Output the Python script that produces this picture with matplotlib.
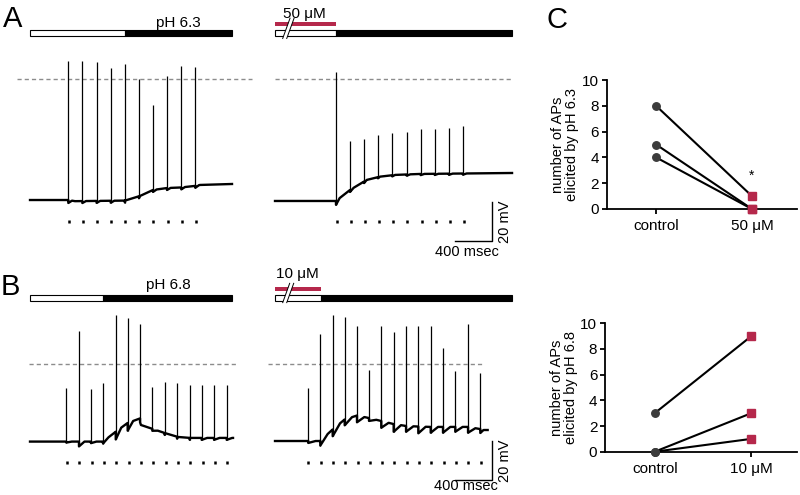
"""Acid-evoked firing traces (A, B) and AP counts per condition (C)."""

import matplotlib

matplotlib.use("Agg")
import matplotlib.pyplot as plt
import numpy as np

plt.rcParams["font.family"] = ["Liberation Sans", "DejaVu Sans"]

W, H = 800, 495
PX_PER_MS = 0.0917
PX_PER_MV = 1.93
RED = "#b5284b"
DOT = "#3c3c3c"

# ---- panel A, left: pH 6.3 alone ----
A_LEFT_BASE_T = [0, 414, 491, 1036, 1200, 1341, 1494, 1647, 1799, 1854, 2203]
A_LEFT_BASE_V = [-62.7, -62.7, -63.3, -63.0, -60.6, -57.5, -56.5, -56.2, -55.4, -54.9, -54.4]
A_LEFT_SPIKE_T = [418, 571, 726, 880, 1035, 1188, 1341, 1494, 1650, 1803]
A_LEFT_PEAK = [9.3, 9.3, 8.8, 5.7, 7.8, 0.0, -13.5, 1.6, 6.7, 6.2]
A_LEFT_AHP = [1.5, 1.0, 1.0, 1.0, 1.0, 1.0, 1.0, 1.0, 1.0, 1.0]
A_LEFT_STIM = [425, 578, 731, 883, 1036, 1189, 1341, 1505, 1658, 1810]
A_LEFT_SWITCH, A_LEFT_END = 1036, 2203

# ---- panel A, right: pH 6.3 with 50 uM ----
A_RIGHT_BASE_T = [0, 665, 818, 1000, 1145, 1309, 1581, 2585]
A_RIGHT_BASE_V = [-63.2, -63.2, -57.5, -52.3, -50.6, -49.7, -49.2, -48.7]
A_RIGHT_SPIKE_T = [665, 818, 971, 1123, 1279, 1436, 1589, 1742, 1897, 2050]
A_RIGHT_PEAK = [3.8, -32.0, -31.1, -29.0, -28.0, -27.5, -25.9, -25.9, -25.2, -24.5]
A_RIGHT_AHP = [2.0, 1.0, 0.8, 0.6, 0.6, 0.6, 0.6, 0.6, 0.6, 0.6]
A_RIGHT_STIM = [673, 826, 981, 1134, 1290, 1443, 1600, 1752, 1908, 2061]
A_RIGHT_SWITCH, A_RIGHT_END = 665, 2585

# ---- panel B, left: pH 6.8 alone ----
B_LEFT_BASE_T = [0, 796, 932, 1063, 1200, 1210, 1472, 1614, 1745, 2214]
B_LEFT_BASE_V = [-40.2, -40.2, -35.2, -30.6, -28.2, -31.6, -35.8, -37.8, -38.3, -38.3]
B_LEFT_SPIKE_T = [396, 534, 665, 796, 935, 1065, 1200, 1334, 1469, 1603, 1742, 1872, 2007, 2145]
B_LEFT_PEAK = [-12.6, 17.1, -13.1, -10.0, 25.4, 24.0, 20.7, -12.1, -9.3, -9.7, -11.0, -11.0, -11.0, -11.0]
B_LEFT_AHP = [0.5, 2.5, 0.8, 1.0, 4.0, 4.0, 2.0, 1.0, 1.0, 1.0, 1.0, 1.0, 1.0, 1.0]
B_LEFT_STIM = [400, 538, 673, 807, 941, 1076, 1210, 1345, 1480, 1614, 1748, 1883, 2017, 2152]
B_LEFT_SWITCH, B_LEFT_END = 800, 2206

# ---- panel B, right: pH 6.8 with 10 uM ----
B_RIGHT_BASE_T = [0, 360, 491, 622, 758, 894, 1025, 1156, 1292, 1429, 1559, 1696, 2105, 2236, 2274]
B_RIGHT_BASE_V = [-39.9, -39.9, -39.9, -34.2, -28.8, -26.7, -28.0, -29.5, -31.1, -32.1, -32.4, -32.6, -32.6, -33.7, -34.2]
B_RIGHT_SPIKE_T = [363, 494, 629, 760, 894, 1025, 1159, 1294, 1429, 1563, 1698, 1832, 1966, 2105, 2239]
B_RIGHT_PEAK = [-12.6, 15.5, 25.4, 24.2, 19.8, -3.1, 19.8, 16.4, 19.8, 19.8, 19.8, 8.4, -3.6, 20.5, -4.8]
B_RIGHT_AHP = [1.0, 2.5, 3.5, 3.0, 3.5, 1.5, 3.5, 4.0, 3.0, 3.5, 3.0, 3.0, 2.5, 3.0, 2.0]
B_RIGHT_STIM = [363, 498, 632, 767, 902, 1036, 1167, 1301, 1436, 1570, 1705, 1840, 1974, 2108, 2243]
B_RIGHT_SWITCH, B_RIGHT_END = 498, 2581

SCALE_MS, SCALE_MV = 400, 20

# ---- panel C: number of APs ----
C_CATEGORIES_TOP = ["control", "50 \u03bcM"]
C_CONTROL_TOP = [8, 5, 4]
C_DRUG_TOP = [1, 0, 0]
C_CATEGORIES_BOTTOM = ["control", "10 \u03bcM"]
C_CONTROL_BOTTOM = [3, 0, 0]
C_DRUG_BOTTOM = [9, 3, 1]


def trace_axes(fig, box, origin):
    """Axes in ms / mV whose pixel scale is shared by all four traces."""
    left, top, right, bottom = box
    x0, y0 = origin
    ax = fig.add_axes([left / W, 1 - bottom / H, (right - left) / W, (bottom - top) / H])
    ax.set_xlim((left - x0) / PX_PER_MS, (right - x0) / PX_PER_MS)
    ax.set_ylim((y0 - bottom) / PX_PER_MV, (y0 - top) / PX_PER_MV)
    ax.axis("off")
    return ax


def draw_trace(ax, base_t, base_v, spike_t, peaks, ahp, stim, stim_v, rec=40):
    base_t = np.asarray(base_t, float)
    base_v = np.asarray(base_v, float)
    ts, vs = list(base_t), list(base_v)
    foot = np.interp(spike_t, base_t, base_v)
    for t, b, a in zip(spike_t, foot, ahp):
        ts += [t - 0.1, t + 0.1, t + rec]
        vs += [b, b - a, np.interp(t + rec, base_t, base_v)]
    order = np.argsort(ts, kind="stable")
    ax.plot(np.array(ts)[order], np.array(vs)[order], color="k", lw=1.7,
            solid_joinstyle="round")
    ax.vlines(spike_t, foot - np.asarray(ahp), peaks, color="k", lw=0.9)
    ax.vlines(stim, stim_v - 0.8, stim_v + 0.8, color="k", lw=1.8)


def draw_solution_bar(ax, end, switch, y0, height):
    ax.barh(y0 + height / 2, switch, left=0, height=height, color="white",
            edgecolor="k", lw=0.8)
    ax.barh(y0 + height / 2, end - switch, left=switch, height=height,
            color="k", edgecolor="k", lw=0.8)


def draw_break(ax, x0, x1, y0, y1, gap=44):
    ax.plot([x0 + gap / 2, x1 + gap / 2], [y0, y1], color="white", lw=2.6,
            solid_capstyle="butt")
    for dx in (0, gap):
        ax.plot([x0 + dx, x1 + dx], [y0, y1], color="k", lw=0.7)


def draw_scale(ax, x_right, y_bottom, text_v, text_t):
    ax.plot([x_right - SCALE_MS, x_right, x_right],
            [y_bottom, y_bottom, y_bottom + SCALE_MV], color="k", lw=1.0)
    ax.text(x_right + 150, y_bottom + SCALE_MV / 2, f"{SCALE_MV} mV", rotation=90,
            ha="center", va="center", fontsize=10.5)
    ax.text(text_t, text_v, f"{SCALE_MS} msec", ha="center", va="center",
            fontsize=10.5)


def dashed(ax, t0, t1):
    ax.plot([t0, t1], [0, 0], color="#8c8c8c", lw=1.0, dashes=(3, 2.2))


def ap_panel(fig, rect, categories, control, drug):
    ax = fig.add_axes(rect)
    for c, d in zip(control, drug):
        ax.plot([0, 1], [c, d], color="k", lw=1.5, zorder=2)
    ax.plot(np.zeros(len(control)), control, "o", color=DOT, ms=5.4,
            zorder=3, clip_on=False)
    ax.plot(np.ones(len(drug)), drug, "s", color=RED, ms=5.6, zorder=3,
            clip_on=False)
    ax.set_xlim(-0.515, 1.47)
    ax.set_ylim(0, 10)
    ax.set_yticks([0, 2, 4, 6, 8, 10])
    ax.set_xticks([0, 1])
    ax.set_xticklabels(categories)
    for side in ("top", "right"):
        ax.spines[side].set_visible(False)
    for side in ("left", "bottom"):
        ax.spines[side].set_linewidth(1.3)
    ax.tick_params(width=1.3, length=3.5, labelsize=11, pad=2)
    ax.tick_params(axis="x", pad=4)
    return ax


fig = plt.figure(figsize=(W / 100, H / 100), dpi=100)

# A left
ax = trace_axes(fig, (0, 0, 262, 250), (30, 79))
dashed(ax, -142, 2421)
draw_solution_bar(ax, A_LEFT_END, A_LEFT_SWITCH, 22.3, 3.1)
ax.text(1614, 26.9, "pH 6.3", ha="center", va="baseline", fontsize=11)
draw_trace(ax, A_LEFT_BASE_T, A_LEFT_BASE_V, A_LEFT_SPIKE_T, A_LEFT_PEAK,
           A_LEFT_AHP, A_LEFT_STIM, -73.9)

# A right
ax = trace_axes(fig, (262, 0, 535, 250), (275, 79))
dashed(ax, 0, 2595)
draw_solution_bar(ax, A_RIGHT_END, A_RIGHT_SWITCH, 22.3, 3.1)
ax.barh(28.6, A_RIGHT_SWITCH, left=0, height=2.2, color=RED)
draw_break(ax, 84, 164, 21.0, 31.5)
ax.text(316, 31.4, "50 \u03bcM", ha="center", va="baseline", fontsize=11)
draw_trace(ax, A_RIGHT_BASE_T, A_RIGHT_BASE_V, A_RIGHT_SPIKE_T, A_RIGHT_PEAK,
           A_RIGHT_AHP, A_RIGHT_STIM, -73.9)
draw_scale(ax, 2363, -83.8, -89.6, 2094)

# B left
ax = trace_axes(fig, (0, 250, 262, 495), (30, 364))
dashed(ax, -11, 2268)
draw_solution_bar(ax, B_LEFT_END, B_LEFT_SWITCH, 32.8, 3.0)
ax.text(1510, 38.7, "pH 6.8", ha="center", va="baseline", fontsize=11)
draw_trace(ax, B_LEFT_BASE_T, B_LEFT_BASE_V, B_LEFT_SPIKE_T, B_LEFT_PEAK,
           B_LEFT_AHP, B_LEFT_STIM, -51.1, rec=60)

# B right
ax = trace_axes(fig, (262, 250, 535, 495), (275, 364))
dashed(ax, -76, 2268)
draw_solution_bar(ax, B_RIGHT_END, B_RIGHT_SWITCH, 32.8, 3.0)
ax.barh(39.0, B_RIGHT_SWITCH, left=0, height=2.2, color=RED)
draw_break(ax, 84, 160, 31.8, 41.8)
ax.text(240, 44.4, "10 \u03bcM", ha="center", va="baseline", fontsize=11)
draw_trace(ax, B_RIGHT_BASE_T, B_RIGHT_BASE_V, B_RIGHT_SPIKE_T, B_RIGHT_PEAK,
           B_RIGHT_AHP, B_RIGHT_STIM, -51.1, rec=80)
draw_scale(ax, 2363, -60.1, -63.2, 2083)

# C
ax = ap_panel(fig, [606.7 / W, 1 - 209 / H, 190.3 / W, 129 / H],
              C_CATEGORIES_TOP, C_CONTROL_TOP, C_DRUG_TOP)
ax.set_ylabel("number of APs\nelicited by pH 6.3", fontsize=10.5, labelpad=2,
              linespacing=1.0)
ax.text(1, 2.6, "*", ha="center", va="center", fontsize=10)

ax = ap_panel(fig, [605 / W, 1 - 451.7 / H, 191.7 / W, 128.4 / H],
              C_CATEGORIES_BOTTOM, C_CONTROL_BOTTOM, C_DRUG_BOTTOM)
ax.set_ylabel("number of APs\nelicited by pH 6.8", fontsize=10.5, labelpad=2,
              linespacing=1.0)

fig.text(3 / W, 1 - 27 / H, "A", fontsize=21, va="baseline")
fig.text(1 / W, 1 - 295 / H, "B", fontsize=21, va="baseline")
fig.text(546 / W, 1 - 28 / H, "C", fontsize=21, va="baseline")

fig.savefig("out.png", dpi=100)
